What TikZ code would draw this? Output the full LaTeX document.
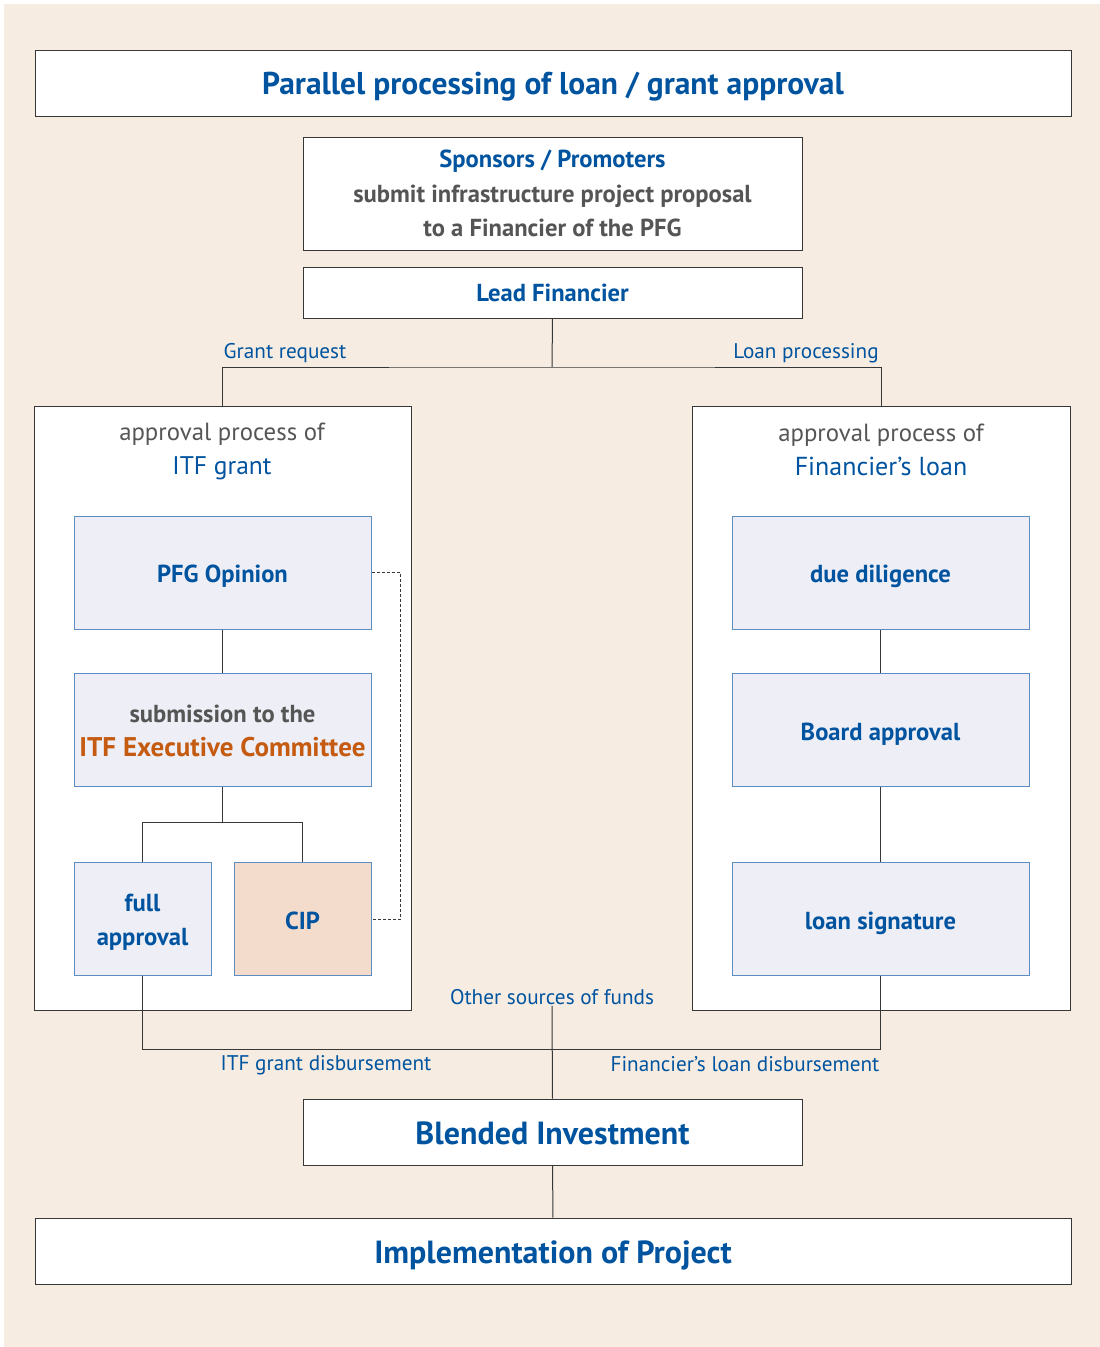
\documentclass[tikz,border=0pt]{standalone}
\usepackage{fontspec}
\setmainfont{PT Sans}
\definecolor{itfblue}{RGB}{0,84,159}
\definecolor{itfgray}{RGB}{85,85,85}
\definecolor{itforange}{RGB}{197,90,17}
\definecolor{bgbeige}{RGB}{246,236,226}
\definecolor{boxlav}{RGB}{237,238,246}
\definecolor{boxpeach}{RGB}{243,220,203}
\definecolor{boxedge}{RGB}{91,140,196}
\definecolor{lineedge}{RGB}{55,55,55}
\newcommand\sink[2]{\raisebox{-#1}[0pt][0pt]{#2}}

\begin{document}
\begin{tikzpicture}[x=1pt,y=-1pt,
        frame/.style={rectangle,draw=lineedge,line width=1pt,fill=white,inner sep=0pt,align=center,text=itfblue},
        stage/.style={rectangle,draw=boxedge,line width=1pt,fill=boxlav,inner sep=0pt,align=center,text=itfblue,
            minimum width=297pt,minimum height=113pt,font=\fontsize{24.6}{34}\selectfont\bfseries},
        small/.style={stage,minimum width=137pt},
        bigline/.style={font=\fontsize{32}{36}\selectfont\bfseries},
        conn/.style={draw=lineedge,line width=1pt},
        link/.style={draw=lineedge,line width=0.8pt,dash pattern=on 3pt off 2pt},
        lbl/.style={text=itfblue,inner sep=1pt,font=\fontsize{21.2}{24}\selectfont},
        head/.style={align=center,inner sep=0pt,text=itfgray,font=\fontsize{24.8}{34}\selectfont}]
    \useasboundingbox (0,0) rectangle (1100,1347);
    \fill[bgbeige] (4,4) rectangle (1100,1347);
    \node [frame,minimum width=1036pt,minimum height=66pt,font=\fontsize{31.5}{36}\selectfont\bfseries] (title) at (553,83) {\sink{11.3pt}{Parallel processing of loan / grant approval}};
    \node [frame,minimum width=499pt,minimum height=113pt,font=\fontsize{24.6}{34.5}\selectfont\bfseries] (sponsor) at (552.5,193.5)
        {Sponsors / Promoters\\\color{itfgray}submit infrastructure project proposal\\\color{itfgray}to a Financier of the PFG};
    \node [frame,minimum width=499pt,minimum height=51pt,font=\fontsize{24.6}{28}\selectfont\bfseries] (lead) at (552.5,292.5) {\sink{8.5pt}{Lead Financier}};
    \node [frame,minimum width=377pt,minimum height=604pt] (itf) at (222.5,708) {};
    \node [frame,minimum width=378pt,minimum height=604pt] (loan) at (881,708) {};
    \node [head] at (222,451) {approval process of\\{\color{itfblue}\fontsize{25.5}{30}\selectfont ITF grant}};
    \node [head] at (881,449.5) {approval process of\\{\color{itfblue}\fontsize{26}{30}\selectfont Financier’s loan}};
    \node [stage] (pfg) at (222.5,572.5) {\sink{10pt}{PFG Opinion}};
    \node [stage] (exco) at (222.5,730) {\raisebox{0pt}[20pt][0pt]{\color{itfgray}submission to the}\\{\color{itforange}\fontsize{27}{30}\selectfont ITF Executive Committee}};
    \node [small] (full) at (142.5,919) {\raisebox{0pt}[24pt][0pt]{full}\\approval};
    \node [small,fill=boxpeach] (cip) at (302.5,919) {\sink{10pt}{CIP}};
    \node [stage] (diligence) at (880.5,572.5) {\sink{10pt}{due diligence}};
    \node [stage] (board) at (880.5,730) {\sink{10pt}{Board approval}};
    \node [stage] (sign) at (880.5,919) {\sink{10pt}{loan signature}};
    \node [frame,bigline,minimum width=499pt,minimum height=66pt] (blend) at (552.5,1132) {\sink{12pt}{Blended Investment}};
    \node [frame,bigline,minimum width=1036pt,minimum height=66pt] (impl) at (553,1251) {\sink{12pt}{Implementation of Project}};
    \node [lbl] (grantreq) at (285,353) {Grant request};
    \node [lbl] (loanproc) at (806,353) {Loan processing};
    \node [lbl] (others) at (552,997) {Other sources of funds};
    \node [lbl] (grantdis) at (326,1065) {ITF grant disbursement};
    \node [lbl] (loandis) at (745,1064) {Financier’s loan disbursement};
    \coordinate (split) at (552,367);
    \coordinate (merge) at (552,1049);
    \coordinate (fork) at (222.5,822);
    \draw [conn] (lead.south) -- (split);
    \draw [conn] (itf.north) |- (split) -| (loan.north);
    \draw [conn] (pfg) -- (exco);
    \draw [conn] (exco.south) -- (fork);
    \draw [conn] (full.north) |- (fork) -| (cip.north);
    \draw [conn] (diligence) -- (board);
    \draw [conn] (board) -- (sign);
    \draw [link] (pfg.east) -- ++(29,0) |- (cip.east);
    \draw [conn] (full.south) |- (merge) -| (sign.south);
    \draw [conn] (others.south) -- (blend.north);
    \draw [conn] (blend) -- (impl);
\end{tikzpicture}
\end{document}
